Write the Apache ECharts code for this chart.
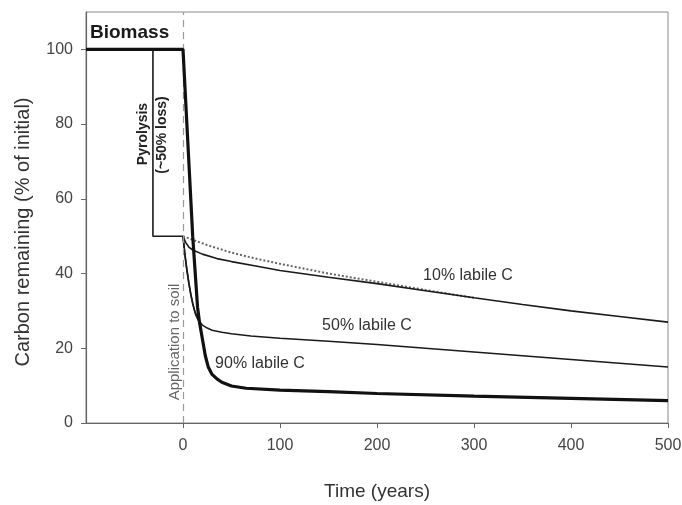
<!DOCTYPE html>
<html>
<head>
<meta charset="utf-8">
<script src="https://cdn.jsdelivr.net/npm/echarts@6/dist/echarts.min.js"></script>
<style>
html,body{margin:0;padding:0;background:#fff;}
#main{width:682px;height:505px;}
</style>
</head>
<body>
<div id="main"></div>
<script>
// ---- data ----
var xTicks = [0, 100, 200, 300, 400, 500];
var yTicks = [0, 20, 40, 60, 80, 100];

// Biomass (thick line)
var biomassT = [-100, 0, 5, 10, 15, 17, 20, 23, 26, 30, 35, 40, 50, 65, 100, 150, 200, 300, 400, 500];
var biomassV = [100, 100, 75, 50, 31, 27, 22.5, 18, 15, 13, 11.8, 10.9, 9.9, 9.3, 8.8, 8.4, 7.9, 7.2, 6.6, 6.0];

// Pyrolysis step (~50% loss)
var pyroT = [-31, -31, 0];
var pyroV = [100, 50, 50];

// Biochar, 90% labile C
var lab90T = [0, 2, 4, 6, 8, 10, 12, 15, 17, 20, 23, 26, 30, 35, 40, 50, 65, 100, 150, 200, 300, 400, 500];
var lab90V = [50, 45, 41, 37.5, 34.5, 32, 30, 28.2, 27, 22.5, 18, 15, 13, 11.8, 10.9, 9.9, 9.3, 8.8, 8.4, 7.9, 7.2, 6.6, 6.0];

// Biochar, 50% labile C
var lab50T = [0, 2, 4, 6, 8, 10, 13, 16, 20, 25, 30, 40, 50, 70, 100, 150, 200, 250, 300, 350, 400, 450, 500];
var lab50V = [50, 45, 41, 37.5, 34.5, 32, 29, 27.4, 26.2, 25.4, 24.8, 24.3, 23.9, 23.3, 22.7, 21.9, 21.0, 20.0, 19.0, 18.0, 17.0, 16.0, 15.0];

// Biochar, 10% labile C
var lab10T = [0, 3, 6, 10, 20, 35, 50, 75, 100, 150, 200, 250, 300, 350, 400, 450, 500];
var lab10V = [50, 48.2, 47.1, 46.3, 45.2, 44.0, 43.2, 42.0, 40.8, 39.0, 37.3, 35.4, 33.5, 31.7, 30.0, 28.5, 27.0];

// Biochar, no labile C (dotted)
var stableT = [0, 25, 50, 75, 100, 125, 150, 175, 200, 250, 300];
var stableV = [50, 47.6, 45.6, 44.0, 42.6, 41.3, 40.0, 38.9, 37.8, 35.6, 33.5];

function pairs(t, v) { return t.map(function (x, i) { return [x, v[i]]; }); }

var FONT = '"Liberation Sans", Arial, sans-serif';
var chart = echarts.init(document.getElementById('main'), null, {renderer: 'canvas'});

var thin = {color: '#1a1a1a', width: 1.6};
function lineSeries(name, t, v, style, z) {
  return {
    name: name, type: 'line', data: pairs(t, v), showSymbol: false, symbol: 'none',
    smooth: false, lineStyle: style, z: z || 2, animation: false
  };
}

var option = {
  animation: false,
  backgroundColor: '#ffffff',
  grid: {left: 86, right: 14, top: 12, bottom: 82, show: true, borderColor: '#8a8a8a', borderWidth: 1,
         containLabel: false, outerBoundsMode: 'none'},
  xAxis: {
    type: 'value', min: -100, max: 500, interval: 100,
    axisLine: {show: true, onZero: false, lineStyle: {color: '#666', width: 1.2}},
    axisTick: {show: true, inside: false, length: 5, customValues: xTicks, lineStyle: {color: '#666'}},
    splitLine: {show: false},
    axisLabel: {
      margin: 15, color: '#444', fontSize: 16, fontFamily: FONT, customValues: xTicks,
      formatter: function (v) { return String(v); }
    }
  },
  yAxis: {
    type: 'value', min: 0, max: 110, interval: 20,
    axisLine: {show: true, onZero: false, lineStyle: {color: '#666', width: 1.2}},
    axisTick: {show: true, inside: false, length: 5, customValues: yTicks, lineStyle: {color: '#666'}},
    splitLine: {show: false},
    axisLabel: {
      margin: 13, color: '#444', fontSize: 16, fontFamily: FONT, customValues: yTicks,
      formatter: function (v) { return String(v); }
    }
  },
  series: [
    {
      type: 'line', data: [], silent: true,
      markLine: {
        symbol: 'none', silent: true, animation: false,
        label: {show: false},
        lineStyle: {color: '#9a9a9a', type: [7, 5], width: 1.2},
        data: [{xAxis: 0}]
      }
    },
    lineSeries('stable', stableT, stableV, {color: '#666', width: 2, type: [2, 2]}, 3),
    lineSeries('pyrolysis', pyroT, pyroV, thin, 3),
    lineSeries('10%', lab10T, lab10V, thin, 4),
    lineSeries('50%', lab50T, lab50V, thin, 4),
    lineSeries('90%', lab90T, lab90V, thin, 4),
    lineSeries('biomass', biomassT, biomassV, {color: '#111', width: 3.2}, 5)
  ],
  graphic: [
    {type: 'text', x: 90, y: 33, style: {text: 'Biomass', font: 'bold 19px ' + FONT, fill: '#1a1a1a', textVerticalAlign: 'middle'}},
    {type: 'text', x: 143, y: 134, rotation: Math.PI / 2,
     style: {text: 'Pyrolysis', font: 'bold 14px ' + FONT, fill: '#222', textAlign: 'center', textVerticalAlign: 'middle'}},
    {type: 'text', x: 162, y: 135, rotation: Math.PI / 2,
     style: {text: '(~50% loss)', font: 'bold 14px ' + FONT, fill: '#222', textAlign: 'center', textVerticalAlign: 'middle'}},
    {type: 'text', x: 175, y: 342, rotation: Math.PI / 2,
     style: {text: 'Application to soil', font: '15px ' + FONT, fill: '#666', textAlign: 'center', textVerticalAlign: 'middle'}},
    {type: 'text', x: 468, y: 276,
     style: {text: '10% labile C', font: '16px ' + FONT, fill: '#333', textAlign: 'center', textVerticalAlign: 'middle'}},
    {type: 'text', x: 367, y: 326,
     style: {text: '50% labile C', font: '16px ' + FONT, fill: '#333', textAlign: 'center', textVerticalAlign: 'middle'}},
    {type: 'text', x: 260, y: 364,
     style: {text: '90% labile C', font: '16px ' + FONT, fill: '#333', textAlign: 'center', textVerticalAlign: 'middle'}},
    {type: 'text', x: 23, y: 232, rotation: Math.PI / 2,
     style: {text: 'Carbon remaining (% of initial)', font: '20px ' + FONT, fill: '#333', textAlign: 'center', textVerticalAlign: 'middle'}},
    {type: 'text', x: 377, y: 492,
     style: {text: 'Time (years)', font: '19px ' + FONT, fill: '#333', textAlign: 'center', textVerticalAlign: 'middle'}}
  ]
};
chart.setOption(option);
</script>
</body>
</html>
